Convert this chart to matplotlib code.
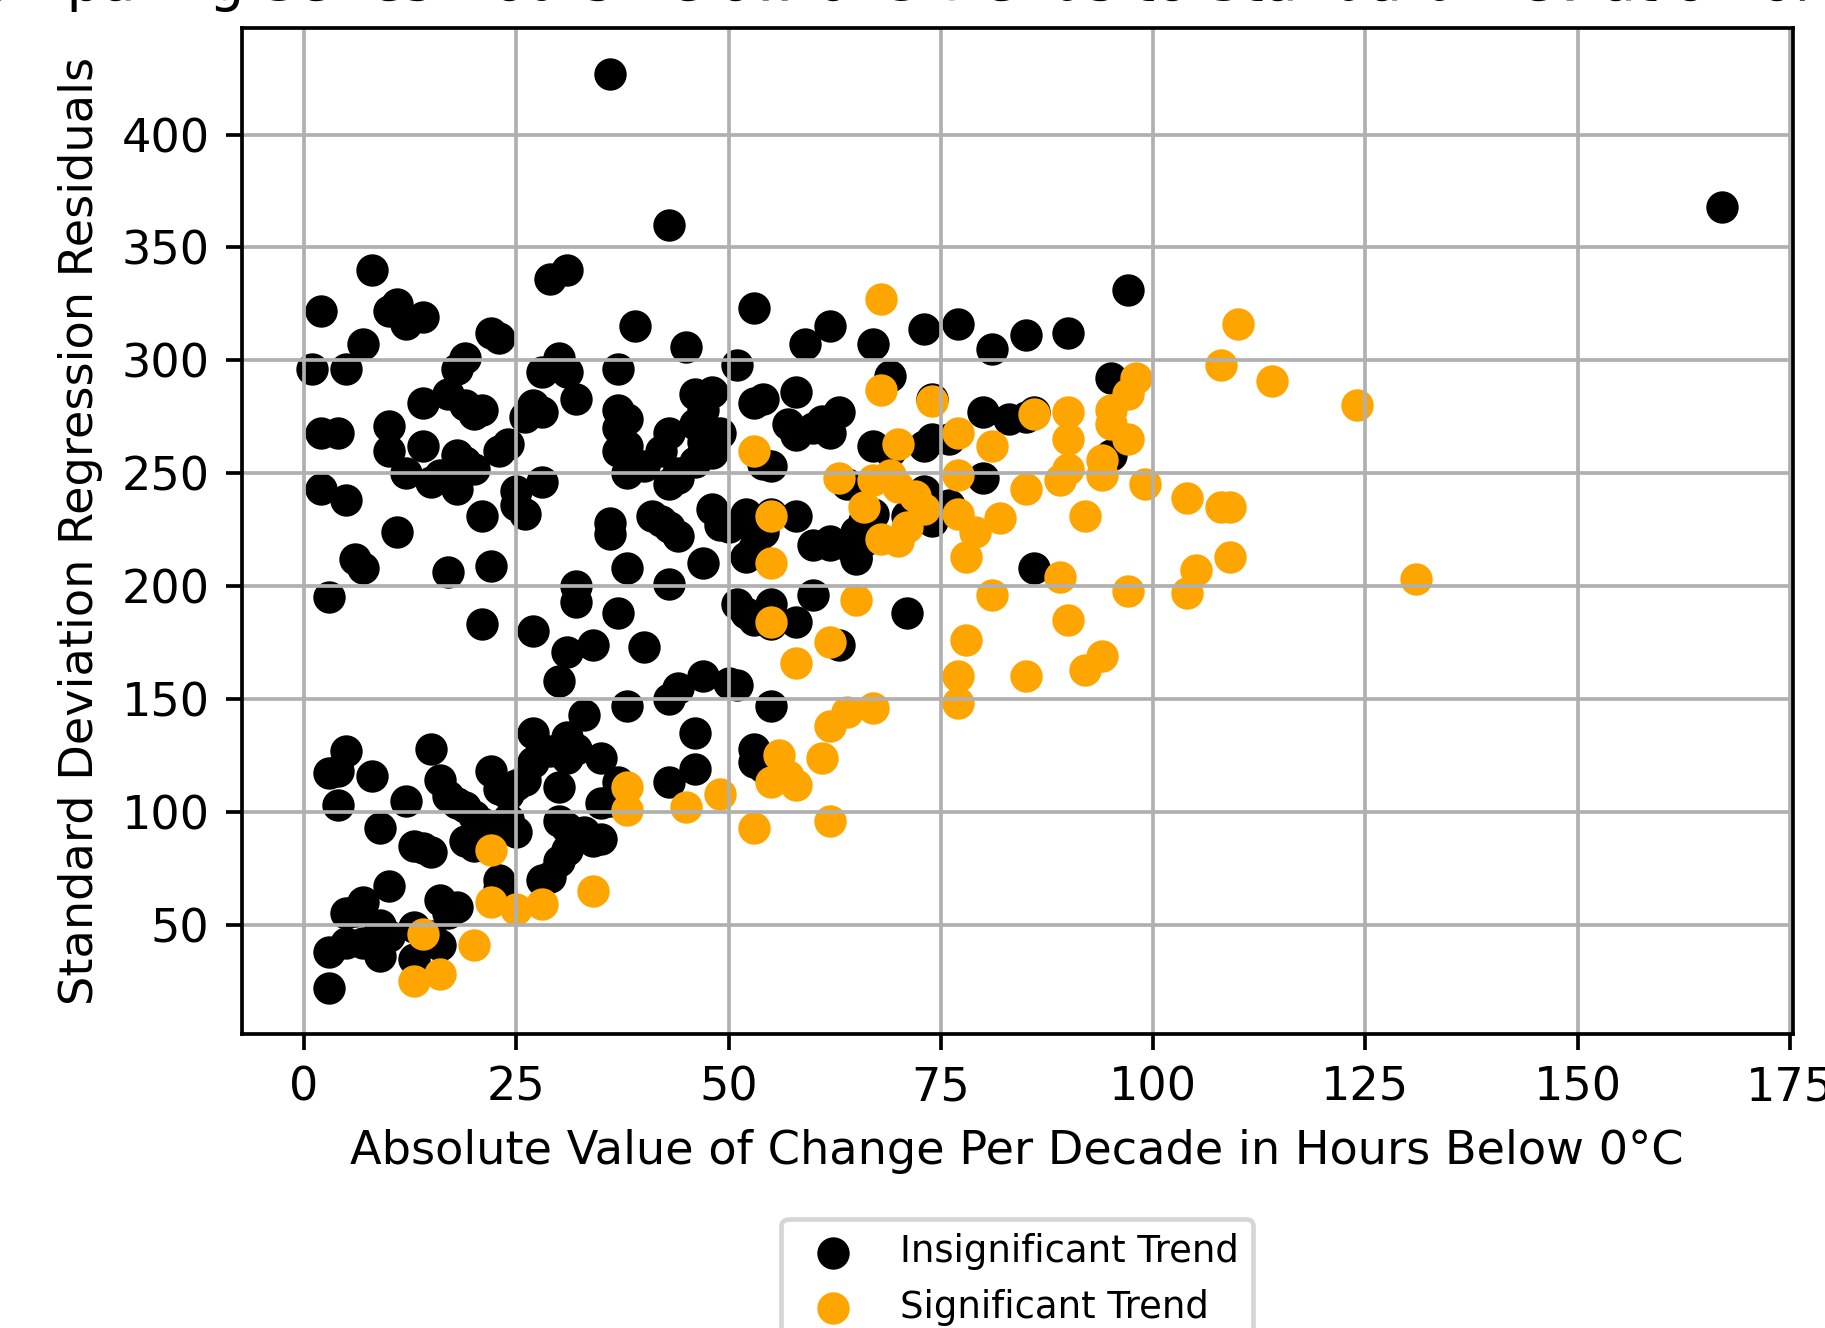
import matplotlib
matplotlib.use("Agg")
import matplotlib.pyplot as plt

# insignificant trend points (abs change per decade, std dev of residuals)
insig_x = [36, 43, 167, 97, 8, 2, 10, 12, 11, 14,
           29, 31, 53, 39, 62, 59, 67, 73, 77, 81, 85, 90,
           7, 23, 22, 1, 5, 19, 18,
           28, 30, 31, 37, 45, 51, 95, 69,
           14, 17, 19, 20, 21, 10, 32, 27, 26, 28,
           2, 4, 10, 14, 12, 15, 16, 18, 18, 20, 19, 23, 24,
           2, 5, 25, 25, 26, 28, 21, 11,
           6, 7, 17, 22, 3, 21, 27,
           37, 38, 37, 38, 37, 38, 40, 42, 43, 44, 46, 47, 48, 46, 47, 48, 49, 46, 43, 44,
           53, 54, 58, 57, 60, 61, 62, 63, 58, 54, 55,
           36, 36, 41, 42, 43, 44, 48, 49, 50, 52, 53, 54, 53, 52, 55, 58,
           47, 38, 43, 37, 40, 51, 52, 53, 55, 55, 58, 60, 60, 62, 64, 65, 66, 65,
           32, 32, 31, 34, 30,
           47, 50, 51, 44, 43, 55, 38,
           63, 71, 86,
           67, 69, 73, 74, 74, 76, 76, 74, 72, 66, 65, 67, 71, 73,
           80, 83, 86, 80, 85, 95, 64, 62,
           27, 27, 29, 31, 32, 33, 35, 30, 31, 36, 37, 35,
           46, 46, 43, 53, 53, 54,
           3, 4, 5, 8, 4, 12, 15, 16, 17, 18, 19, 20, 22, 23, 24, 25, 26, 21, 24, 25, 22,
           9, 13, 14, 15, 19, 20,
           30, 31, 33, 34, 35, 31, 30,
           10, 7, 6, 5, 16, 18, 17, 23, 23, 28, 29,
           3, 5, 7, 9, 10, 13, 13, 15, 16, 3, 9]
insig_y = [427, 360, 368, 331, 340, 322, 322, 316, 325, 319,
           336, 340, 323, 315, 315, 307, 307, 314, 316, 305, 311, 312,
           307, 310, 312, 296, 296, 301, 296,
           295, 301, 295, 296, 306, 298, 292, 293,
           281, 285, 280, 276, 278, 271, 283, 280, 275, 277,
           268, 268, 260, 262, 250, 246, 249, 258, 243, 252, 255, 260, 263,
           243, 238, 242, 236, 232, 246, 231, 224,
           212, 208, 206, 209, 195, 183, 180,
           278, 274, 270, 262, 260, 250, 253, 260, 245, 248, 285, 278, 286, 272, 264, 259, 268, 255, 268, 250,
           281, 283, 286, 272, 270, 273, 268, 277, 267, 254, 253,
           228, 223, 231, 229, 226, 222, 234, 227, 226, 232, 225, 224, 217, 213, 232, 231,
           210, 208, 201, 188, 173, 192, 188, 185, 192, 183, 184, 196, 218, 220, 218, 213, 220, 212,
           200, 193, 171, 174, 158,
           160, 157, 156, 155, 150, 147, 147,
           174, 188, 208,
           262, 260, 262, 265, 283, 265, 236, 229, 237, 229, 224, 232, 231, 242,
           277, 274, 277, 248, 275, 258, 245, 218,
           135, 122, 127, 133, 128, 143, 124, 111, 124, 105, 113, 104,
           135, 119, 113, 128, 122, 120,
           117, 118, 127, 116, 103, 105, 128, 114, 107, 104, 102, 98, 118, 110, 108, 112, 114, 95, 97, 91, 90,
           93, 85, 84, 82, 87, 85,
           96, 93, 91, 87, 88, 83, 78,
           67, 60, 56, 55, 61, 58, 55, 70, 66, 70, 71,
           38, 42, 42, 36, 45, 49, 35, 45, 41, 22, 50]

# significant trend points
sig_x = [68, 110, 108, 114, 124, 98, 97, 95, 95, 97, 86, 90, 90, 74, 68, 77, 70, 81,
         94, 90, 89, 94, 99, 85, 77, 69, 67, 70, 63, 72, 73, 71, 68, 70, 66, 77, 79, 82,
         78, 92, 104, 108, 109, 109, 105, 104, 97, 89, 81, 65, 53, 55, 55, 55, 62, 58,
         78, 77, 85, 90, 94, 92, 131, 77, 67, 64, 62, 56, 55, 57, 58, 61, 49, 45, 38, 38,
         53, 62, 34, 22, 22, 25, 28, 20, 14, 13, 16]
sig_y = [327, 316, 298, 291, 280, 292, 285, 278, 272, 265, 276, 277, 265, 282, 287, 268, 263, 262,
         256, 252, 247, 249, 245, 243, 249, 249, 247, 244, 248, 240, 234, 226, 221, 220, 235, 232, 224, 230,
         213, 231, 239, 235, 235, 213, 207, 197, 198, 204, 196, 194, 260, 231, 210, 184, 175, 166,
         176, 160, 160, 185, 169, 163, 203, 148, 146, 144, 138, 125, 113, 116, 112, 124, 108, 102, 111, 101,
         93, 96, 65, 83, 60, 57, 59, 41, 46, 25, 28]

DPI = 333
fig = plt.figure(figsize=(1825/DPI, 1328/DPI), dpi=DPI)
ax = fig.add_axes([0.1326, 0.2217, 0.8496, 0.7573])

ax.scatter(insig_x, insig_y, color='black', label='Insignificant Trend')
ax.scatter(sig_x, sig_y, color='orange', label='Significant Trend')

ax.grid(True)
ax.set_xlabel('Absolute Value of Change Per Decade in Hours Below 0°C')
ax.set_ylabel('Standard Deviation Regression Residuals')
ax.set_title('Comparing Series Hours Below 0°C Trends to Standard Deviation of Residuals')
ax.legend(loc='upper center', bbox_to_anchor=(0.5, -0.184), borderaxespad=0, fontsize=8)

fig.savefig('out.png', dpi=DPI)
